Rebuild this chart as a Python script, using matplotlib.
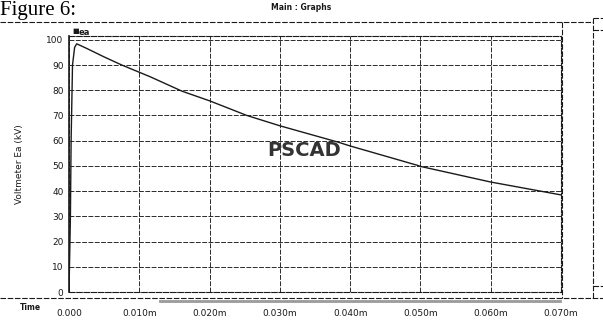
import matplotlib.pyplot as plt
from matplotlib.lines import Line2D
import numpy as np

# curve (time in s, Ea in kV)
t = [0.0, 0.0002, 0.0003, 0.0005, 0.0008, 0.0011, 0.0025, 0.005, 0.0075, 0.0115,
     0.0161, 0.020, 0.0253, 0.030, 0.0383, 0.040, 0.0496, 0.050, 0.060, 0.070]
ea = [0.0, 30.0, 60.0, 90.0, 97.0, 98.4, 96.6, 93.2, 90.0, 85.4,
      79.6, 75.8, 70.0, 65.9, 59.4, 57.9, 50.2, 49.8, 43.6, 38.5]

xticks = [0.0, 0.01, 0.02, 0.03, 0.04, 0.05, 0.06, 0.07]
xlabels = ["0.000", "0.010m", "0.020m", "0.030m", "0.040m", "0.050m", "0.060m", "0.070m"]
yticks = [0, 10, 20, 30, 40, 50, 60, 70, 80, 90, 100]

ink = "#1a1a1a"
dash = (0, (5, 1.5))

fig = plt.figure(figsize=(6.03, 3.34), dpi=100)
ax = fig.add_axes([69 / 603, 1 - 292 / 334, (561 - 69) / 603, (292 - 36) / 334])

ax.plot(t, ea, color=ink, lw=1.0)
ax.set_xlim(0, 0.07)
ax.set_ylim(0, 101.5)
ax.set_xticks(xticks)
ax.set_xticklabels(xlabels)
ax.set_yticks(yticks)
ax.tick_params(axis="both", length=0, labelsize=6.5, colors=ink, pad=4)
ax.tick_params(axis="x", pad=12)
ax.grid(True, color="#2a2a2a", lw=0.7, linestyle=dash)
for s in ["top", "right", "bottom"]:
    ax.spines[s].set_color(ink)
    ax.spines[s].set_linestyle(dash)
    ax.spines[s].set_linewidth(0.8)
ax.spines["left"].set_color(ink)
ax.spines["left"].set_linewidth(1.2)
ax.set_ylabel("Voltmeter Ea (kV)", fontsize=6.5, color=ink, labelpad=16)

# legend marker and label
ax.text(0.0009, 103.3, "\u25a0", fontsize=5, color=ink, ha="center", va="center", clip_on=False)
ax.text(0.0014, 102.8, "ea", fontsize=6, fontweight="bold", color=ink, va="center", clip_on=False)

# watermark
ax.text(0.0335, 56, "PSCAD", fontsize=14, fontweight="bold", color="#333333",
        ha="center", va="center")

# window decorations
fig.text(0.0, 0.998, "Figure 6:", fontsize=15, family="Liberation Serif",
         va="top", ha="left", color="black")
fig.text(0.5, 1 - 8 / 334, "Main : Graphs", fontsize=5.5, fontweight="bold",
         ha="center", va="center", color=ink)
fig.text(20 / 603, 1 - 308 / 334, "Time", fontsize=5.5, fontweight="bold",
         ha="left", va="center", color=ink)

def hline(y, x0, x1, lw=0.8, color=ink, ls=dash):
    fig.add_artist(Line2D([x0 / 603, x1 / 603], [1 - y / 334, 1 - y / 334],
                          color=color, lw=lw, linestyle=ls))

def vline(x, y0, y1, lw=0.8):
    fig.add_artist(Line2D([x / 603, x / 603], [1 - y0 / 334, 1 - y1 / 334],
                          color=ink, lw=lw, linestyle=dash))

hline(22, 0, 593)
hline(18, 593, 603)
vline(562, 22, 298)
vline(593, 18, 298)
hline(298, 0, 603)
hline(300.5, 160, 560, lw=2.0, color="#9a9a9a", ls="-")
hline(286, 593, 603)
hline(30, 593, 603)

plt.savefig("out.png", dpi=100, facecolor="white")
